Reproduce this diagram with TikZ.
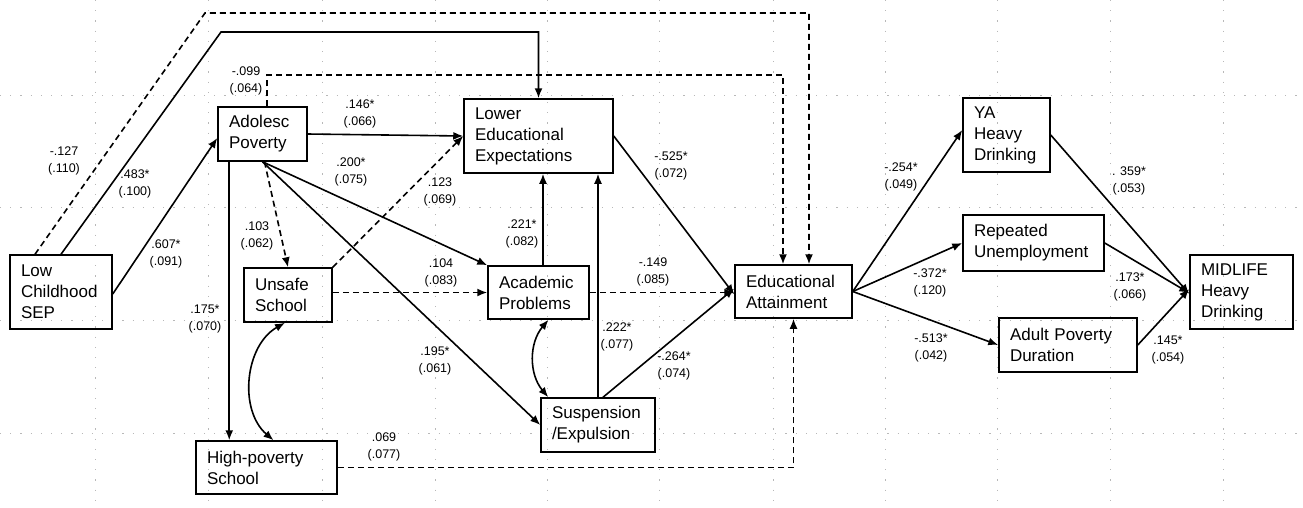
\documentclass[tikz,border=0pt]{standalone}
\usepackage{fontspec}
\setmainfont{Liberation Sans}
\usetikzlibrary{arrows.meta}
\begin{document}
\begin{tikzpicture}[x=1pt,y=-1pt,
  bx/.style={draw, line width=1.5pt, inner xsep=11pt, inner ysep=0pt, align=left, font=\fontsize{17}{21}\selectfont},
  lab/.style={align=center, inner sep=0pt, font=\fontsize{12.5}{17.5}\selectfont},
  ar/.style={line width=1.6pt, -{Latex[length=10pt,width=8pt]}},
  da/.style={ar, dash pattern=on 6pt off 4pt},
  dbl/.style={line width=1.6pt, {Latex[length=10pt,width=8pt]}-{Latex[length=10pt,width=8pt]}},
  gridline/.style={draw=black!28, line width=1pt, dash pattern=on 1.2pt off 9pt}]

\useasboundingbox (0,0) rectangle (1303,507);

% background grid
\foreach \x in {95,208,322,435,547,659,773,885,997,1110,1223}
  \draw[gridline] (\x,0) -- (\x,507);
\foreach \y in {95,207,320,433}
  \draw[gridline] (0,\y) -- (1303,\y);

% boxes
\node[bx, text width=80pt,  minimum height=74pt] (sep)    at (61,292)     {Low\\Childhood\\SEP};
\node[bx, text width=67pt,  minimum height=54pt] (adol)   at (262.5,134)  {Adolesc\\Poverty};
\node[bx, text width=66pt,  minimum height=54pt] (unsafe) at (288,295)    {Unsafe\\School};
\node[bx, text width=119pt, minimum height=53pt] (hp)     at (266.5,467.5){High-poverty\\School};
\node[bx, text width=127pt, minimum height=74pt] (lee)    at (538.5,136)  {Lower\\Educational\\Expectations};
\node[bx, text width=79pt,  minimum height=53pt] (ap)     at (538.5,292.5){Academic\\Problems};
\node[bx, text width=92pt,  minimum height=54pt] (susp)   at (598,425)    {Suspension\\/Expulsion};
\node[bx, text width=95pt,  minimum height=53pt] (ea)     at (793.5,291.5){Educational\\Attainment};
\node[bx, text width=65pt,  minimum height=74pt] (ya)     at (1006.5,135) {YA\\Heavy\\Drinking};
\node[bx, text width=119pt, minimum height=56pt] (rep)    at (1033.5,243) {Repeated\\Unemployment};
\node[bx, text width=116pt, minimum height=54pt] (apd)    at (1068,345)   {Adult Poverty\\Duration};
\node[bx, text width=81pt,  minimum height=74pt] (mid)    at (1241.5,292) {MIDLIFE\\Heavy\\Drinking};

% connectors
\draw[ar] ([yshift=-2pt]sep.east) -- ([yshift=-4pt]adol.west);
\draw[ar] (sep.north) -- (221,32) -| (lee.north);
\draw[da] ([xshift=-26pt]sep.north) -- (205,13) -| ([xshift=15.5pt]ea.north);
\draw[da] ([xshift=4.5pt]adol.north) -- ++(0,-31) -| ([xshift=-10.5pt]ea.north);
\draw[ar] (adol.east) -- (lee.west);
\draw[ar] (adol.south) -- (ap.north west);
\draw[ar] (adol.south) -- (susp.west);
\draw[da] ([xshift=2pt]adol.south) -- (unsafe.north);
\draw[ar] ([xshift=12pt]adol.south west) -- ([xshift=12pt]adol.south west |- hp.north);
\draw[da] (unsafe.north east) -- (lee.west);
\draw[da] (unsafe.east |- ap.west) -- (ap.west);
\draw[dbl] ([xshift=-3pt]unsafe.south) to[bend right=55] ([xshift=7pt]hp.north);
\draw[ar] ([xshift=4.5pt]ap.north) -- ([xshift=4.5pt]ap.north |- lee.south);
\draw[ar] (susp.north) -- (susp.north |- lee.south);
\draw[dbl] ([xshift=10pt]ap.south) to[bend right=40] ([xshift=8pt]susp.north west);
\draw[da] (ap.east) -- (ea.west |- ap.east);
\draw[ar] (lee.east) -- ([yshift=-3pt]ea.west);
\draw[ar] ([xshift=5pt]susp.north) -- ([yshift=3pt]ea.west);
\draw[da] (hp.east) -| (ea.south);
\draw[ar] (ea.east) -- ([yshift=5pt]ya.west);
\draw[ar] (ea.east) -- (rep.west);
\draw[ar] (ea.east) -- (apd.west);
\draw[ar] (ya.east) -- ([yshift=-2pt]mid.west);
\draw[ar] (rep.east) -- ([yshift=-1pt]mid.west);
\draw[ar] (apd.east) -- ([yshift=3pt]mid.west);

% labels
\node[lab] (l01) at (166,254) {.607*\\(.091)};
\node[lab] (l02) at (135,184) {.483*\\(.100)};
\node[lab] (l03) at (64,161)  {-.127\\(.110)};
\node[lab] (l04) at (246,81)  {-.099\\(.064)};
\node[lab] (l05) at (360,114) {.146*\\(.066)};
\node[lab] (l06) at (351,172) {.200*\\(.075)};
\node[lab] (l07) at (440,192) {.123\\(.069)};
\node[lab] (l08) at (257,236) {.103\\(.062)};
\node[lab] (l09) at (205,319) {.175*\\(.070)};
\node[lab] (l10) at (441,273) {.104\\(.083)};
\node[lab] (l11) at (522,234) {.221*\\(.082)};
\node[lab] (l12) at (653,272) {-.149\\(.085)};
\node[lab] (l13) at (671,166) {-.525*\\(.072)};
\node[lab] (l14) at (435,361) {.195*\\(.061)};
\node[lab] (l15) at (617,337) {.222*\\(.077)};
\node[lab] (l16) at (674,366) {-.264*\\(.074)};
\node[lab] (l17) at (384,447) {.069\\(.077)};
\node[lab] (l18) at (901,177) {-.254*\\(.049)};
\node[lab] (l19) at (930,283) {-.372*\\(.120)};
\node[lab] (l20) at (931,348) {-.513*\\(.042)};
\node[lab] (l21) at (1129,181) {. 359*\\(.053)};
\node[lab] (l22) at (1130,287) {.173*\\(.066)};
\node[lab] (l23) at (1168,350) {.145*\\(.054)};
\end{tikzpicture}
\end{document}
